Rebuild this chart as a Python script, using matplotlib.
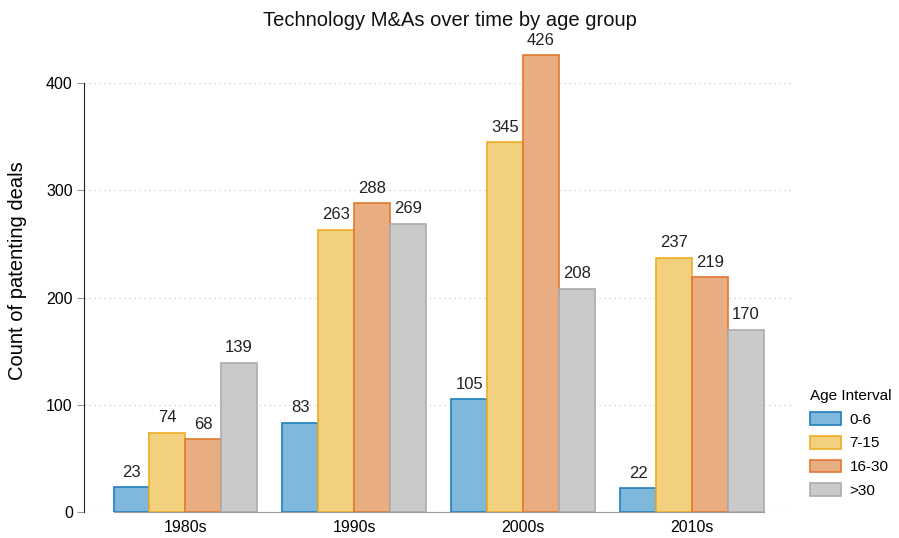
import numpy as np
import matplotlib
matplotlib.use("Agg")
import matplotlib.pyplot as plt

decades = ["1980s", "1990s", "2000s", "2010s"]
groups = ["0-6", "7-15", "16-30", ">30"]
age_0_6 = [23, 83, 105, 22]
age_7_15 = [74, 263, 345, 237]
age_16_30 = [68, 288, 426, 219]
age_30_plus = [139, 269, 208, 170]

fills = ["#7fb8db", "#f2d07e", "#e8ae82", "#cacaca"]
edges = ["#2080c0", "#ecae24", "#e07a30", "#ababab"]

plt.rcParams["font.family"] = ["Liberation Sans", "DejaVu Sans"]

fig = plt.figure(figsize=(8.99, 5.38), dpi=100)
ax = fig.add_axes([0.0934, 0.0483, 0.789, 0.897])

x = np.arange(len(decades))
width = 0.2125
series = [age_0_6, age_7_15, age_16_30, age_30_plus]
for i, vals in enumerate(series):
    pos = x + (i - 1.5) * width
    bars = ax.bar(pos, vals, width, color=fills[i], edgecolor=edges[i],
                  linewidth=1.2, label=groups[i], zorder=3)
    for b, v in zip(bars, vals):
        ax.text(b.get_x() + b.get_width() / 2, v + 7, str(v),
                ha="center", va="bottom", fontsize=12, color="#222222")

ax.set_xlim(-0.6, 3.6)
ax.set_ylim(0, 450)
ax.set_xticks(x)
ax.set_xticklabels(decades, fontsize=11.5)
ax.set_yticks([0, 100, 200, 300, 400])
ax.tick_params(axis="y", labelsize=11.5, length=5, color="#999999", pad=3)
ax.tick_params(axis="x", length=0, pad=6)
ax.yaxis.grid(True, linestyle=(0, (1, 3)), color="#cccccc", linewidth=0.9, zorder=0)

for s in ["top", "right"]:
    ax.spines[s].set_visible(False)
ax.spines["left"].set_bounds(0, 400)
ax.spines["left"].set_color("#222222")
ax.spines["bottom"].set_bounds(-0.425, 3.425)
ax.spines["bottom"].set_color("#999999")
ax.spines["bottom"].set_zorder(4)

ax.set_ylabel("Count of patenting deals", fontsize=14.5, labelpad=14)
fig.text(0.5, 1 - 20 / 538, "Technology M&As over time by age group",
         ha="center", va="center", fontsize=14.5, color="#111111")

leg = ax.legend(title="Age Interval", loc="lower left",
                bbox_to_anchor=(810 / 899, 40 / 538), bbox_transform=fig.transFigure,
                borderaxespad=0, borderpad=0,
                frameon=False, fontsize=11, title_fontsize=11,
                handlelength=2.0, handleheight=0.9, handletextpad=0.6, labelspacing=0.6)
leg._legend_box.align = "left"

fig.savefig("out.png", dpi=100)
